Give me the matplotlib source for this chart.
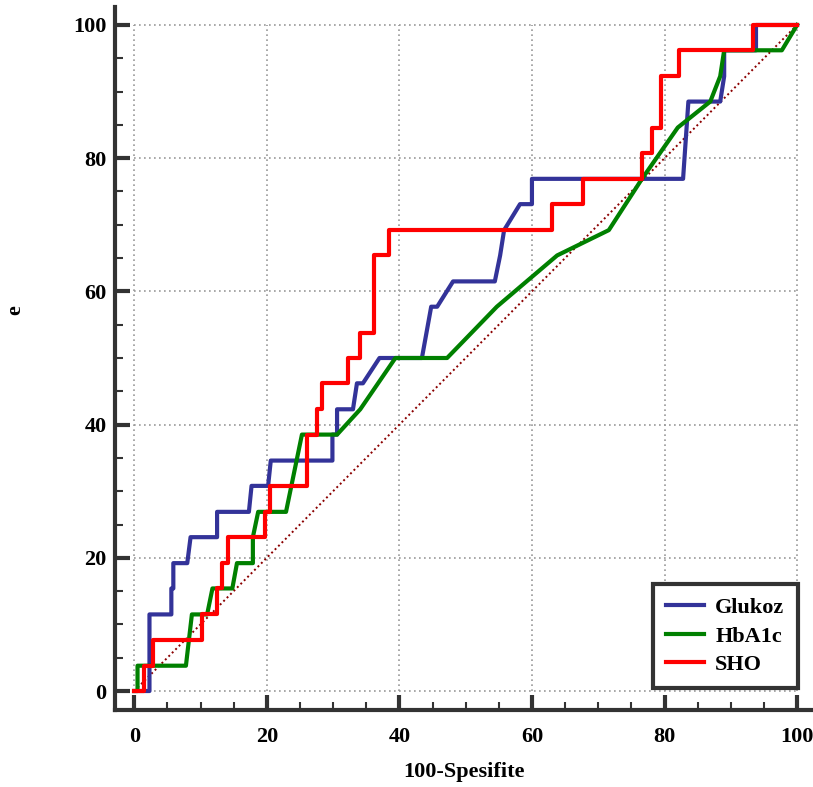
import matplotlib
matplotlib.use("Agg")
import matplotlib.pyplot as plt
from matplotlib.ticker import FixedLocator

# ROC curve vertices (100-specificity, sensitivity)
glukoz_x = [0, 2.3, 2.3, 5.6, 5.6, 5.9, 5.9, 8.0, 8.5, 12.5, 12.5, 17.3, 17.7, 20.2, 20.6,
            29.9, 29.9, 30.6, 30.6, 33.0, 33.6, 34.5, 37.0, 43.4, 44.8, 45.7, 48.1, 54.4,
            55.2, 55.8, 58.2, 60.0, 60.0, 82.8, 83.6, 88.4, 89.0, 89.0, 93.8, 93.8, 100]
glukoz_y = [0, 0, 11.5, 11.5, 15.4, 15.4, 19.2, 19.2, 23.1, 23.1, 26.9, 26.9, 30.8, 30.8, 34.6,
            34.6, 38.5, 38.5, 42.3, 42.3, 46.2, 46.2, 50.0, 50.0, 57.7, 57.7, 61.5, 61.5,
            65.4, 69.2, 73.1, 73.1, 76.9, 76.9, 88.5, 88.5, 92.3, 96.2, 96.2, 100, 100]

hba1c_x = [0, 0.5, 0.5, 7.8, 8.7, 11.0, 11.8, 14.8, 15.5, 17.9, 17.9, 18.7, 22.9, 25.3,
           30.6, 34.1, 39.4, 47.2, 54.7, 63.8, 71.6, 76.6, 82.0, 86.9, 88.4, 89.0, 97.7, 100]
hba1c_y = [0, 0, 3.8, 3.8, 11.5, 11.5, 15.4, 15.4, 19.2, 19.2, 23.1, 26.9, 26.9, 38.5,
           38.5, 42.3, 50.0, 50.0, 57.7, 65.4, 69.2, 76.9, 84.6, 88.5, 92.3, 96.2, 96.2, 100]

sho_x = [0, 1.4, 1.4, 2.8, 2.8, 10.2, 10.2, 12.5, 12.5, 13.2, 13.2, 14.1, 14.1, 19.7, 19.7,
         20.5, 20.5, 26.0, 26.0, 27.5, 27.5, 28.3, 28.3, 32.3, 32.3, 34.0, 34.0, 36.1, 36.1,
         38.5, 38.5, 63.0, 63.0, 67.7, 67.7, 76.6, 76.6, 78.1, 78.1, 79.5, 79.5, 82.2, 82.2,
         93.3, 93.3, 100]
sho_y = [0, 0, 3.8, 3.8, 7.7, 7.7, 11.5, 11.5, 15.4, 15.4, 19.2, 19.2, 23.1, 23.1, 26.9,
         26.9, 30.8, 30.8, 38.5, 38.5, 42.3, 42.3, 46.2, 46.2, 50.0, 50.0, 53.8, 53.8, 65.4,
         65.4, 69.2, 69.2, 73.1, 73.1, 76.9, 76.9, 80.8, 80.8, 84.6, 84.6, 92.3, 92.3, 96.2,
         96.2, 100, 100]

ticks = [0, 20, 40, 60, 80, 100]
minor_ticks = [5, 10, 15, 25, 30, 35, 45, 50, 55, 65, 70, 75, 85, 90, 95]

plt.rcParams["font.family"] = "Liberation Serif"
plt.rcParams["font.weight"] = "bold"

fig = plt.figure(figsize=(8.13, 7.87), dpi=100)
ax = fig.add_axes([115 / 813, 77 / 787, 698 / 813, 703 / 787])
ax.set_xlim(-2.9, 102.4)
ax.set_ylim(-2.85, 102.7)

# grid only inside the 0-100 box
for t in ticks:
    ax.plot([t, t], [0, 100], color="#999999", lw=1.2, ls=(0, (1, 2)), zorder=1)
    ax.plot([0, 100], [t, t], color="#999999", lw=1.2, ls=(0, (1, 2)), zorder=1)

ax.plot([0, 100], [0, 100], color="#8b0000", lw=1.4, ls=(0, (1, 1.5)), zorder=2)
ax.plot(glukoz_x, glukoz_y, color="#333399", lw=3, label="Glukoz", zorder=3)
ax.plot(hba1c_x, hba1c_y, color="#008000", lw=3, label="HbA1c", zorder=4)
ax.plot(sho_x, sho_y, color="#ff0000", lw=3, label="SHO", zorder=5)

for s in ["top", "right"]:
    ax.spines[s].set_visible(False)
for s in ["left", "bottom"]:
    ax.spines[s].set_linewidth(3)
    ax.spines[s].set_color("#333333")

ax.set_xticks(ticks)
ax.set_yticks(ticks)
ax.xaxis.set_minor_locator(FixedLocator(minor_ticks))
ax.yaxis.set_minor_locator(FixedLocator(minor_ticks))
ax.tick_params(which="major", direction="in", length=11, width=3, color="#333333", labelsize=16)
ax.tick_params(which="minor", direction="in", length=5.5, width=1.5, color="#333333")
ax.tick_params(axis="x", pad=12)
ax.tick_params(axis="y", pad=6)
for lab in ax.get_xticklabels() + ax.get_yticklabels():
    lab.set_fontweight("bold")

ax.set_xlabel("100-Spesifite", fontsize=16, fontweight="bold")
ax.set_ylabel("e", fontsize=16, fontweight="bold")
ax.xaxis.set_label_coords(0.5, -0.074)
ax.yaxis.set_label_coords(-0.128, 0.569)

leg = ax.legend(loc="lower right", bbox_to_anchor=(0.978, 0.031), borderaxespad=0,
                fancybox=False, framealpha=1, edgecolor="#333333",
                handlelength=1.7, handletextpad=0.5, labelspacing=0.35,
                prop={"family": "Liberation Serif", "weight": "bold", "size": 16},
                borderpad=0.6)
leg.get_frame().set_linewidth(3)
leg.set_zorder(10)

fig.savefig("out.png", dpi=100)
